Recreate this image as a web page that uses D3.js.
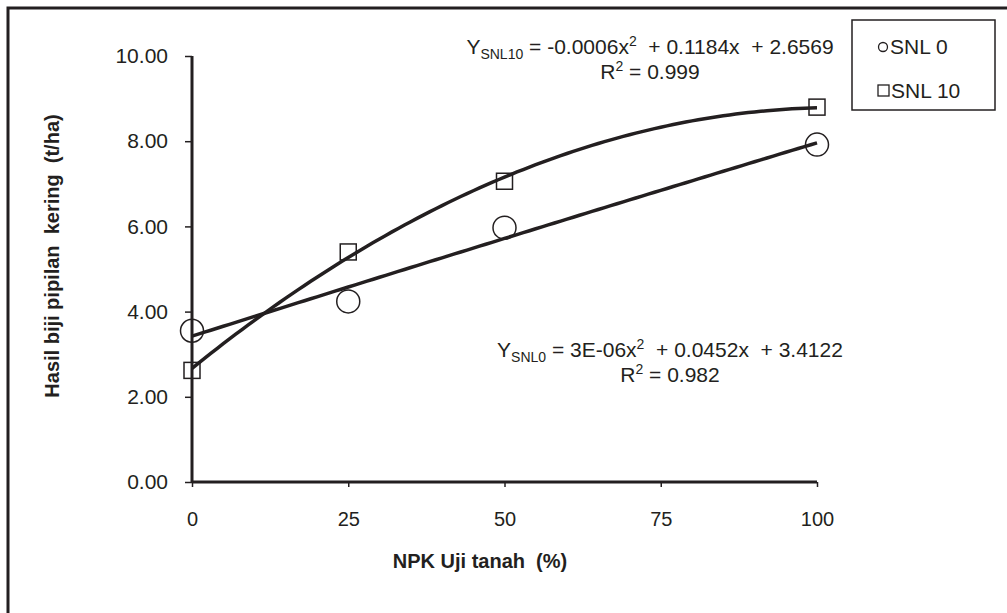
<!DOCTYPE html>
<html>
<head>
<meta charset="utf-8">
<script src="https://cdn.jsdelivr.net/npm/d3@7"></script>
<style>
  body { margin: 0; background: #fff; }
  svg { display: block; font-family: "Liberation Sans", Arial, sans-serif; }
</style>
</head>
<body>
<div id="chart"></div>
<script>
// data
var npk = [0, 25, 50, 100];
var snl0 = [3.55, 4.24, 5.97, 7.92];
var snl10 = [2.62, 5.40, 7.06, 8.80];
var xTicks = [0, 25, 50, 75, 100];
var yTicks = [0, 2, 4, 6, 8, 10];

var W = 1007, H = 613;
var margin = {top: 56, left: 192, right: 190, bottom: 131},
    width = W - margin.left - margin.right,
    height = H - margin.top - margin.bottom;

var ink = "#231f20";

var root = d3.select("#chart").append("svg")
    .attr("width", W)
    .attr("height", H);

// outer frame (top + left only, as in the scan)
root.append("path")
    .attr("d", "M8,613 V8 H1007")
    .attr("fill", "none")
    .attr("stroke", ink)
    .attr("stroke-width", 3);

var svg = root.append("g")
    .attr("transform", "translate(" + margin.left + "," + margin.top + ")");

var x = d3.scaleLinear().domain([0, 100]).range([0, width]),
    y = d3.scaleLinear().domain([0, 10]).range([height, 0]);

// quadratic least squares, like a spreadsheet trendline
function polyFit(xs, ys) {
  var n = xs.length, S = [0, 0, 0, 0, 0], T = [0, 0, 0];
  for (var i = 0; i < n; i++) {
    for (var k = 0; k < 5; k++) S[k] += Math.pow(xs[i], k);
    for (var k = 0; k < 3; k++) T[k] += ys[i] * Math.pow(xs[i], k);
  }
  var A = [[S[0], S[1], S[2], T[0]], [S[1], S[2], S[3], T[1]], [S[2], S[3], S[4], T[2]]];
  for (var c = 0; c < 3; c++) {
    for (var r = c + 1; r < 3; r++) {
      var f = A[r][c] / A[c][c];
      for (var j = c; j < 4; j++) A[r][j] -= f * A[c][j];
    }
  }
  var b = [0, 0, 0];
  for (var r = 2; r >= 0; r--) {
    var s = A[r][3];
    for (var j = r + 1; j < 3; j++) s -= A[r][j] * b[j];
    b[r] = s / A[r][r];
  }
  return function(v) { return b[0] + b[1] * v + b[2] * v * v; };
}

// y axis
var yAxis = svg.append("g")
    .style("font-family", "'Liberation Sans', Arial, sans-serif")
    .style("font-size", "21px")
    .style("color", ink)
    .call(d3.axisLeft(y).tickValues(yTicks).tickSize(7).tickPadding(17)
      .tickFormat(d3.format(".2f")));
yAxis.select(".domain").attr("stroke-width", 3).attr("d", "M0," + height + "V0");
yAxis.selectAll(".tick line").attr("stroke-width", 1.5);
yAxis.selectAll(".tick text").attr("fill", ink);

// x axis
var xAxis = svg.append("g")
    .attr("transform", "translate(0," + height + ")")
    .style("font-family", "'Liberation Sans', Arial, sans-serif")
    .style("font-size", "20px")
    .style("color", ink)
    .call(d3.axisBottom(x).tickValues(xTicks).tickSize(5).tickPadding(25));
xAxis.select(".domain").attr("stroke-width", 3).attr("d", "M0,0H" + width);
xAxis.selectAll(".tick line").attr("stroke-width", 1.5);
xAxis.selectAll(".tick text").attr("fill", ink);

// trend lines
var line = d3.line().x(function(d) { return x(d[0]); }).y(function(d) { return y(d[1]); });
[snl0, snl10].forEach(function(series) {
  var f = polyFit(npk, series);
  var pts = d3.range(0, 101, 1).map(function(v) { return [v, f(v)]; });
  svg.append("path")
      .datum(pts)
      .attr("d", line)
      .attr("fill", "none")
      .attr("stroke", ink)
      .attr("stroke-width", 3.5);
});

// markers
svg.selectAll(".c0")
    .data(npk)
  .enter().append("circle")
    .attr("class", "c0")
    .attr("cx", function(d) { return x(d); })
    .attr("cy", function(d, i) { return y(snl0[i]); })
    .attr("r", 11.5)
    .attr("fill", "none")
    .attr("stroke", ink)
    .attr("stroke-width", 1.5);

svg.selectAll(".s10")
    .data(npk)
  .enter().append("rect")
    .attr("class", "s10")
    .attr("x", function(d) { return x(d) - 8; })
    .attr("y", function(d, i) { return y(snl10[i]) - 8; })
    .attr("width", 16)
    .attr("height", 16)
    .attr("fill", "none")
    .attr("stroke", ink)
    .attr("stroke-width", 1.5);

// axis titles
root.append("text")
    .attr("x", 480)
    .attr("y", 568)
    .attr("text-anchor", "middle")
    .attr("font-weight", "bold")
    .attr("font-size", "20px")
    .attr("fill", ink)
    .attr("xml:space", "preserve")
    .text("NPK Uji tanah  (%)");

root.append("text")
    .attr("transform", "translate(59,256) rotate(-90)")
    .attr("text-anchor", "middle")
    .attr("font-weight", "bold")
    .attr("font-size", "20px")
    .attr("fill", ink)
    .attr("xml:space", "preserve")
    .text("Hasil biji pipilan  kering  (t/ha)");

// regression equations
function equation(cx, cy, sub, rest, r2) {
  var t = root.append("text")
      .attr("x", cx)
      .attr("y", cy)
      .attr("text-anchor", "middle")
      .attr("font-size", "21px")
      .attr("fill", ink)
      .attr("xml:space", "preserve");
  t.append("tspan").text("Y");
  t.append("tspan").attr("font-size", "14px").attr("dy", 5).text(sub);
  t.append("tspan").attr("dy", -5).text(rest[0]);
  t.append("tspan").attr("font-size", "14px").attr("dy", -8).text("2");
  t.append("tspan").attr("dy", 8).text(rest[1]);

  var r = root.append("text")
      .attr("x", cx)
      .attr("y", cy + 25)
      .attr("text-anchor", "middle")
      .attr("font-size", "21px")
      .attr("fill", ink)
      .attr("xml:space", "preserve");
  r.append("tspan").text("R");
  r.append("tspan").attr("font-size", "14px").attr("dy", -8).text("2");
  r.append("tspan").attr("dy", 8).text(" = " + r2);
}
equation(650, 54, "SNL10", [" = -0.0006x", "  + 0.1184x  + 2.6569"], "0.999");
equation(670, 357, "SNL0", [" = 3E-06x", "  + 0.0452x  + 3.4122"], "0.982");

// legend
var lg = root.append("g").attr("transform", "translate(852,20)");
lg.append("rect")
    .attr("width", 143)
    .attr("height", 90)
    .attr("fill", "#fff")
    .attr("stroke", ink)
    .attr("stroke-width", 1.5);
lg.append("circle")
    .attr("cx", 31).attr("cy", 27).attr("r", 4.5)
    .attr("fill", "none").attr("stroke", ink).attr("stroke-width", 1.3);
lg.append("text")
    .attr("x", 38).attr("y", 34)
    .attr("font-size", "21px").attr("fill", ink)
    .text("SNL 0");
lg.append("rect")
    .attr("x", 26).attr("y", 65).attr("width", 11).attr("height", 11)
    .attr("fill", "none").attr("stroke", ink).attr("stroke-width", 1.3);
lg.append("text")
    .attr("x", 39).attr("y", 78)
    .attr("font-size", "21px").attr("fill", ink)
    .text("SNL 10");
</script>
</body>
</html>
